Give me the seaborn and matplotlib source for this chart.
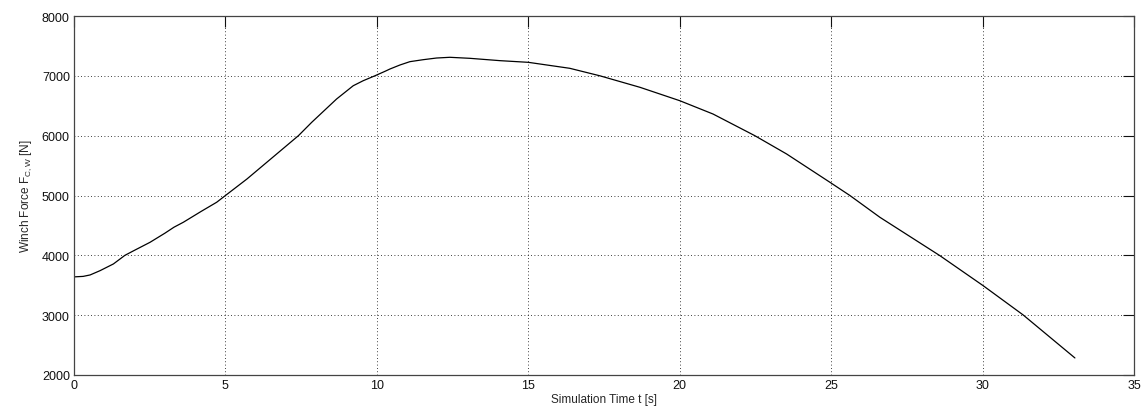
import numpy as np
import pandas as pd
import matplotlib
matplotlib.use("Agg")
import matplotlib.pyplot as plt
import seaborn as sns

# Winch force over simulation time
time_s = [0.0, 0.3, 0.53, 0.86, 1.3, 1.68, 2.0, 2.51, 3.0, 3.3, 3.61, 4.2, 4.71,
          5.0, 5.71, 6.6, 7.41, 7.85, 8.67, 9.22, 9.55, 9.94, 10.27, 10.43,
          10.76, 11.09, 11.53, 11.97, 12.41, 13.07, 14.06, 15.0, 16.37, 17.37,
          18.69, 20.0, 21.1, 22.48, 23.53, 24.96, 25.62, 26.61, 28.59, 30.02,
          31.34, 33.05]
force_n = [3640, 3648, 3672, 3744, 3856, 4000, 4085, 4218, 4370, 4470, 4553,
           4735, 4887, 5000, 5276, 5655, 6000, 6224, 6613, 6835, 6919, 7002,
           7076, 7114, 7181, 7237, 7270, 7298, 7310, 7293, 7254, 7226, 7126,
           7000, 6808, 6585, 6362, 6000, 5694, 5221, 5000, 4636, 3995, 3493,
           3004, 2285]

x_ticks = [0, 5, 10, 15, 20, 25, 30, 35]
y_ticks = [2000, 3000, 4000, 5000, 6000, 7000, 8000]

df = pd.DataFrame({"t": time_s, "F": force_n})

sns.set_style("white")
plt.rcParams["font.family"] = ["Liberation Sans", "DejaVu Sans"]
plt.rcParams["mathtext.fontset"] = "custom"
plt.rcParams["mathtext.rm"] = "Liberation Sans"
plt.rcParams["mathtext.it"] = "Liberation Sans"

fig = plt.figure(figsize=(11.46, 4.14), dpi=100)
ax = fig.add_axes([0.0646, 0.0918, 0.9249, 0.8671])

sns.lineplot(data=df, x="t", y="F", ax=ax, color="black", linewidth=0.9,
             estimator=None, sort=False)

ax.set_xlim(0, 35)
ax.set_ylim(2000, 8000)
ax.set_xticks(x_ticks)
ax.set_yticks(y_ticks)
ax.set_xticklabels([str(v) for v in x_ticks])
ax.set_yticklabels([str(v) for v in y_ticks])

ax.grid(True, color="black", linestyle=(0, (1, 3)), linewidth=0.6)
ax.tick_params(direction="in", length=8, width=0.8, top=True, right=True,
               labelsize=9, colors="#111111", pad=3)
for side in ax.spines.values():
    side.set_color("#444444")
    side.set_linewidth(0.9)

ax.set_xlabel("Simulation Time t [s]", fontsize=8.5, labelpad=1)
ax.set_ylabel("Winch Force F$_{\\mathrm{C,W}}$ [N]", fontsize=8.5, labelpad=6)

fig.savefig("out.png", dpi=100, facecolor="white")
